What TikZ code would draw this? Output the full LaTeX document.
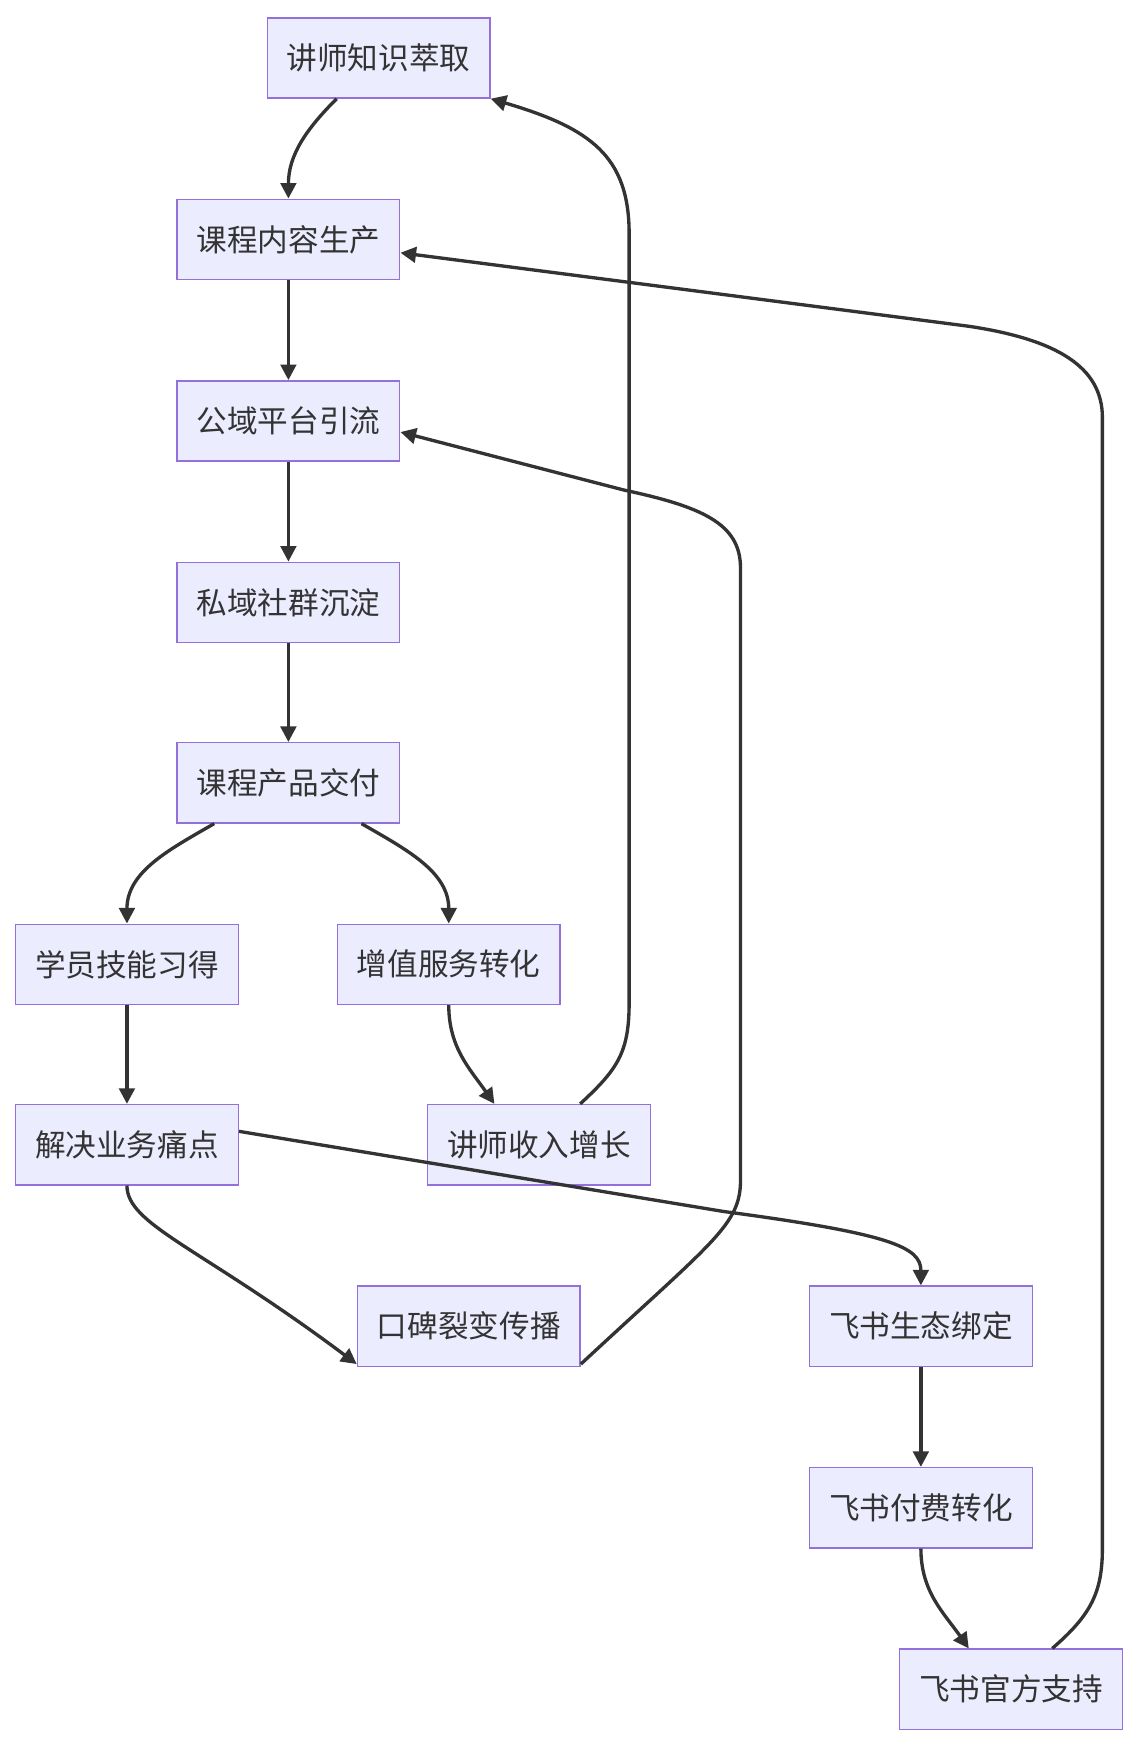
\documentclass[tikz,border=0pt]{standalone}
\usepackage{fontspec}
\setmainfont{Noto Sans CJK SC}
\usetikzlibrary{arrows.meta}
\definecolor{nf}{HTML}{ECECFF}
\definecolor{nb}{HTML}{9370DB}
\definecolor{ln}{HTML}{333333}
\begin{document}
\begin{tikzpicture}[x=1pt,y=-1pt,
 box/.style={draw=nb,fill=nf,line width=1.3pt,minimum width=200pt,minimum height=72pt,inner sep=0pt,font=\fontsize{27.5}{32}\selectfont,text=ln},
 ar/.style={draw=ln,line width=3pt,-{Triangle[length=14pt,width=14pt]}}]
\useasboundingbox (0,0) rectangle (1024,1568);
\node[box] (n1) at (340,52) {讲师知识萃取};
\node[box] (n2) at (259,215) {课程内容生产};
\node[box] (n3) at (259,378) {公域平台引流};
\node[box] (n4) at (259,541) {私域社群沉淀};
\node[box] (n5) at (259,703) {课程产品交付};
\node[box] (n6) at (114,866) {学员技能习得};
\node[box] (n7) at (403,866) {增值服务转化};
\node[box] (n8) at (114,1028) {解决业务痛点};
\node[box] (n9) at (484,1028) {讲师收入增长};
\node[box] (n10) at (421,1191) {口碑裂变传播};
\node[box] (n11) at (827,1191) {飞书生态绑定};
\node[box] (n12) at (827,1354) {飞书付费转化};
\node[box] (n13) at (908,1517) {飞书官方支持};
\coordinate (c1) at (565,900); \coordinate (c2) at (565,210);
\coordinate (d1) at (990,1390); \coordinate (d2) at (990,375);
\coordinate (e1) at (665,1060); \coordinate (e2) at (665,510);
\draw[ar] (n1.south west)++(63,0) to[out=-135,in=90] (n2.north);
\draw[ar] (n2) -- (n3);
\draw[ar] (n3) -- (n4);
\draw[ar] (n4) -- (n5);
\draw[ar] (n6) -- (n8);
\draw[ar] (n11) -- (n12);
\draw[ar] (n5.south west)++(34,0) to[out=-150,in=90] (n6.north);
\draw[ar] (n5.south east)++(-35,0) to[out=-30,in=90] (n7.north);
\draw[ar] (n7.south) to[out=-90,in=125] ([xshift=-40pt]n9.north);
\draw[ar] ([xshift=37pt]n9.north) .. controls (555,960) and (565,945) .. (c1) -- (c2) .. controls (565,140) and (530,115) .. (n1.south east);
\draw[ar] ([xshift=37pt]n13.north) .. controls (980,1450) and (990,1430) .. (d1) -- (d2) .. controls (990,330) and (950,305) .. (870,293) -- ([yshift=-12pt]n2.east);
\draw[ar] ([yshift=-34pt]n10.east) .. controls (640,1115) and (665,1100) .. (e1) -- (e2) .. controls (665,470) and (630,455) .. (560,440) -- ([yshift=-10pt]n3.east);
\draw[ar] (n8.south) .. controls (114,1100) and (180,1120) .. ([yshift=-34pt]n10.west);
\draw[ar] ([yshift=12pt]n8.east) -- (650,1088) .. controls (800,1108) and (827,1120) .. (n11.north);
\draw[ar] (n12.south) to[out=-90,in=125] ([xshift=-38pt]n13.north);
\end{tikzpicture}
\end{document}
